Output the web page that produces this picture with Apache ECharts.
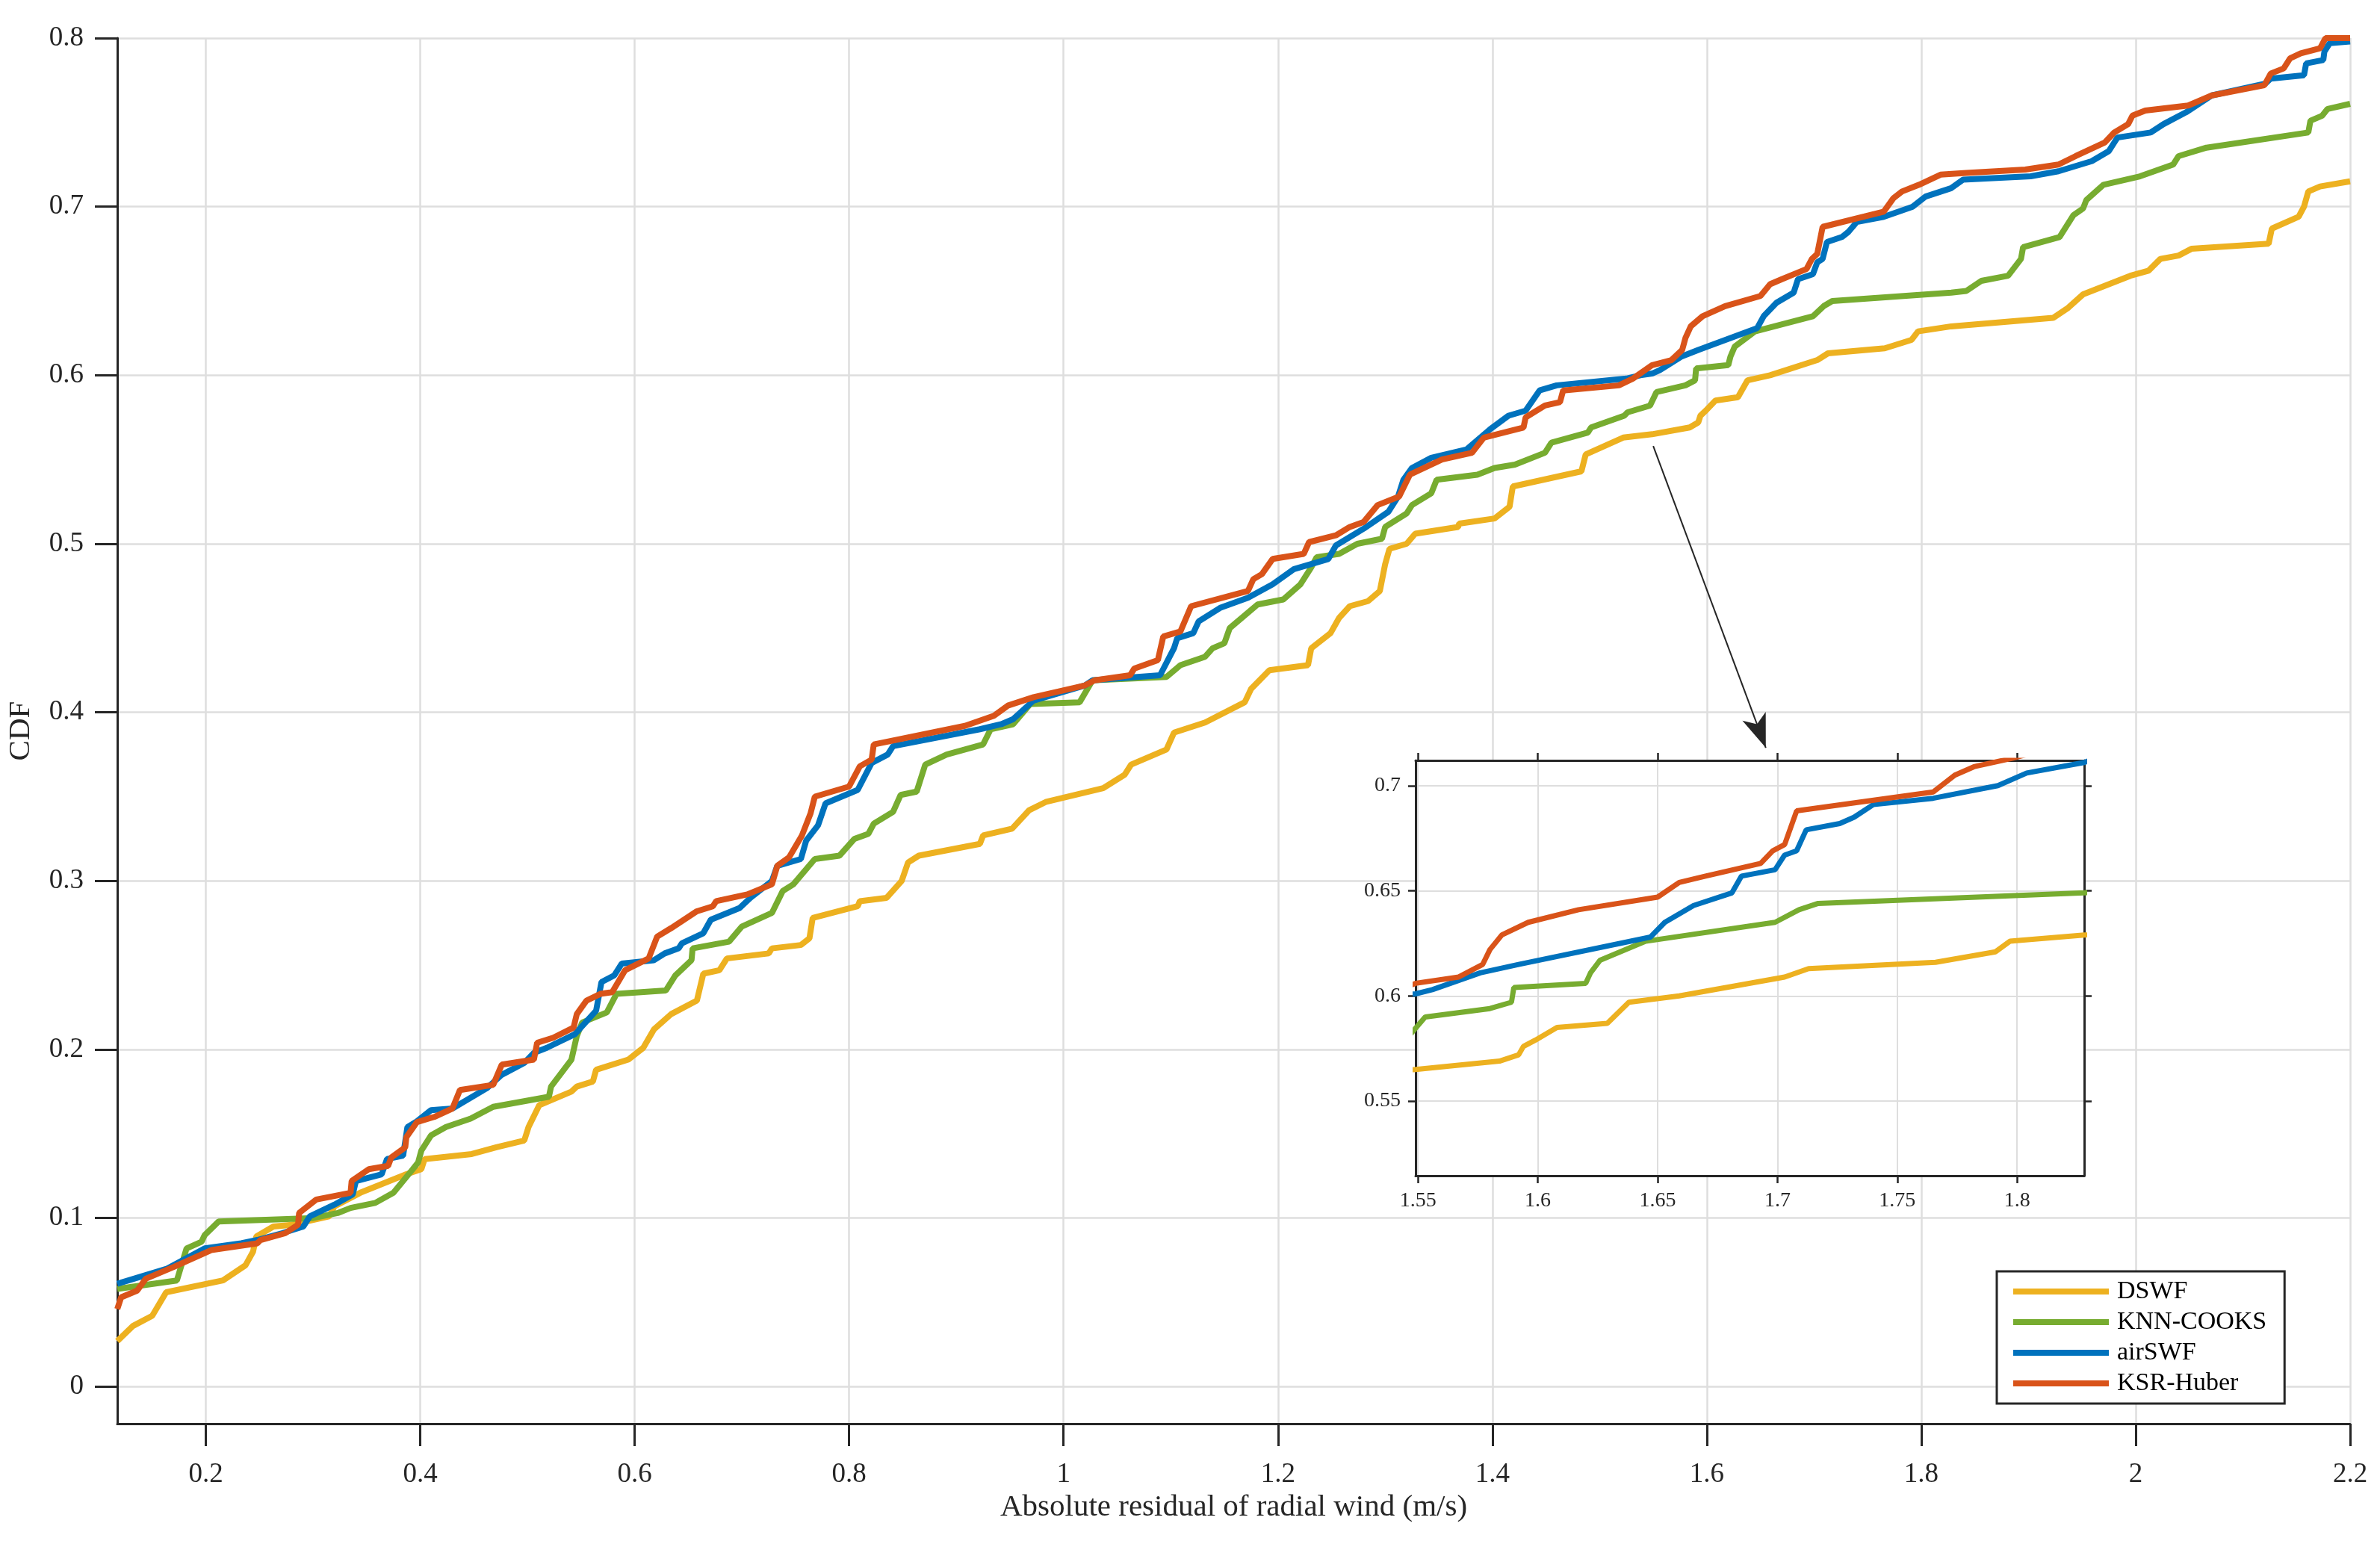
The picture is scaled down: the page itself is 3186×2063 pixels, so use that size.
<!DOCTYPE html>
<html>
<head>
<meta charset="utf-8">
<title>CDF of absolute residual</title>
<script src="https://cdn.jsdelivr.net/npm/echarts@6/dist/echarts.min.js"></script>
<style>
    html, body { margin: 0; padding: 0; background: #fff; }
    #chart { width: 3186px; height: 2063px; }
</style>
</head>
<body>
<div id="chart"></div>
<script>
const seriesNames = ['DSWF', 'KNN-COOKS', 'airSWF', 'KSR-Huber']
const seriesColors = ['#EDB120', '#77AC30', '#0072BD', '#D95319']

// [x, CDF] pairs
const dswf = [[0.1174,0.027],[0.132,0.036],[0.150,0.042],[0.163,0.056],[0.216,0.063],[0.237,0.072],[0.244,0.080],[0.247,0.089],[0.263,0.095],[0.280,0.096],[0.315,0.101],[0.320,0.107],[0.344,0.115],[0.387,0.126],[0.401,0.129],[0.404,0.135],[0.448,0.138],[0.471,0.142],[0.497,0.146],[0.501,0.154],[0.511,0.167],[0.541,0.175],[0.546,0.178],[0.561,0.181],[0.564,0.188],[0.594,0.194],[0.608,0.201],[0.618,0.212],[0.634,0.221],[0.658,0.229],[0.664,0.245],[0.679,0.247],[0.686,0.254],[0.725,0.257],[0.728,0.260],[0.755,0.262],[0.763,0.266],[0.766,0.278],[0.808,0.285],[0.810,0.288],[0.835,0.290],[0.849,0.300],[0.855,0.311],[0.865,0.315],[0.922,0.322],[0.925,0.327],[0.952,0.331],[0.968,0.342],[0.984,0.347],[1.037,0.355],[1.057,0.363],[1.063,0.369],[1.096,0.378],[1.103,0.388],[1.132,0.394],[1.169,0.406],[1.175,0.414],[1.192,0.425],[1.228,0.428],[1.231,0.438],[1.249,0.447],[1.257,0.456],[1.267,0.463],[1.284,0.466],[1.295,0.472],[1.300,0.488],[1.304,0.497],[1.320,0.500],[1.328,0.506],[1.368,0.510],[1.369,0.512],[1.402,0.515],[1.416,0.522],[1.419,0.534],[1.483,0.543],[1.487,0.553],[1.522,0.563],[1.549,0.565],[1.584,0.569],[1.592,0.572],[1.594,0.576],[1.599,0.579],[1.608,0.585],[1.629,0.587],[1.638,0.597],[1.659,0.600],[1.703,0.609],[1.713,0.613],[1.766,0.616],[1.791,0.621],[1.797,0.626],[1.828,0.629],[1.923,0.634],[1.937,0.640],[1.951,0.648],[1.995,0.659],[2.012,0.662],[2.023,0.669],[2.040,0.671],[2.052,0.675],[2.124,0.678],[2.127,0.687],[2.152,0.694],[2.157,0.700],[2.161,0.709],[2.172,0.712],[2.200,0.715]]
const knnCooks = [[0.1174,0.058],[0.173,0.063],[0.182,0.082],[0.196,0.086],[0.199,0.090],[0.212,0.098],[0.300,0.100],[0.323,0.103],[0.335,0.106],[0.358,0.109],[0.375,0.115],[0.393,0.129],[0.398,0.133],[0.401,0.140],[0.410,0.149],[0.424,0.154],[0.447,0.159],[0.468,0.166],[0.520,0.172],[0.522,0.178],[0.541,0.194],[0.546,0.208],[0.551,0.216],[0.574,0.222],[0.583,0.233],[0.629,0.235],[0.638,0.244],[0.653,0.253],[0.654,0.260],[0.688,0.264],[0.700,0.273],[0.728,0.281],[0.738,0.294],[0.748,0.298],[0.768,0.313],[0.791,0.315],[0.805,0.325],[0.818,0.328],[0.823,0.334],[0.841,0.341],[0.848,0.351],[0.863,0.353],[0.871,0.369],[0.891,0.375],[0.925,0.381],[0.932,0.390],[0.953,0.393],[0.969,0.405],[1.015,0.406],[1.027,0.419],[1.096,0.421],[1.109,0.428],[1.132,0.433],[1.139,0.438],[1.150,0.441],[1.155,0.450],[1.181,0.464],[1.205,0.467],[1.221,0.476],[1.231,0.486],[1.236,0.492],[1.257,0.494],[1.274,0.500],[1.297,0.503],[1.300,0.510],[1.320,0.518],[1.325,0.523],[1.343,0.530],[1.348,0.538],[1.386,0.541],[1.402,0.545],[1.421,0.547],[1.449,0.554],[1.455,0.560],[1.489,0.566],[1.492,0.569],[1.523,0.576],[1.526,0.578],[1.547,0.582],[1.553,0.590],[1.580,0.594],[1.589,0.597],[1.590,0.604],[1.620,0.606],[1.622,0.611],[1.626,0.617],[1.645,0.626],[1.699,0.635],[1.709,0.641],[1.717,0.644],[1.828,0.649],[1.842,0.650],[1.856,0.656],[1.881,0.659],[1.893,0.669],[1.895,0.676],[1.929,0.682],[1.942,0.695],[1.951,0.699],[1.954,0.704],[1.970,0.713],[2.004,0.718],[2.035,0.725],[2.040,0.730],[2.066,0.735],[2.161,0.744],[2.163,0.751],[2.174,0.754],[2.179,0.758],[2.200,0.761]]
const airSwf = [[0.1174,0.061],[0.164,0.070],[0.199,0.082],[0.233,0.085],[0.248,0.087],[0.271,0.091],[0.291,0.095],[0.297,0.101],[0.320,0.108],[0.337,0.114],[0.340,0.122],[0.364,0.126],[0.369,0.135],[0.384,0.137],[0.388,0.154],[0.396,0.157],[0.410,0.164],[0.430,0.165],[0.462,0.177],[0.476,0.185],[0.497,0.192],[0.506,0.198],[0.518,0.201],[0.544,0.209],[0.564,0.223],[0.569,0.240],[0.581,0.244],[0.588,0.251],[0.618,0.253],[0.628,0.257],[0.641,0.260],[0.644,0.263],[0.664,0.269],[0.671,0.277],[0.698,0.284],[0.708,0.290],[0.728,0.300],[0.733,0.309],[0.755,0.313],[0.760,0.324],[0.771,0.333],[0.778,0.346],[0.808,0.354],[0.821,0.370],[0.836,0.375],[0.841,0.380],[0.922,0.390],[0.942,0.393],[0.953,0.396],[0.972,0.407],[1.020,0.416],[1.027,0.419],[1.090,0.422],[1.103,0.438],[1.106,0.444],[1.121,0.447],[1.126,0.454],[1.146,0.462],[1.172,0.468],[1.195,0.476],[1.215,0.485],[1.247,0.491],[1.254,0.499],[1.280,0.509],[1.303,0.519],[1.312,0.528],[1.317,0.538],[1.325,0.545],[1.343,0.551],[1.376,0.556],[1.398,0.568],[1.415,0.576],[1.431,0.579],[1.444,0.591],[1.460,0.594],[1.525,0.598],[1.538,0.600],[1.549,0.601],[1.556,0.603],[1.576,0.611],[1.592,0.615],[1.647,0.628],[1.653,0.635],[1.665,0.643],[1.681,0.649],[1.685,0.657],[1.699,0.660],[1.703,0.667],[1.708,0.669],[1.712,0.679],[1.726,0.682],[1.732,0.685],[1.740,0.691],[1.765,0.694],[1.792,0.700],[1.804,0.706],[1.828,0.711],[1.839,0.716],[1.902,0.718],[1.928,0.721],[1.959,0.727],[1.975,0.733],[1.983,0.741],[2.014,0.744],[2.026,0.749],[2.047,0.756],[2.071,0.766],[2.121,0.773],[2.126,0.776],[2.157,0.778],[2.159,0.785],[2.175,0.787],[2.176,0.792],[2.181,0.797],[2.200,0.798]]
const ksrHuber = [[0.1174,0.046],[0.121,0.053],[0.136,0.057],[0.144,0.064],[0.170,0.071],[0.205,0.081],[0.248,0.085],[0.251,0.087],[0.274,0.091],[0.286,0.096],[0.287,0.103],[0.303,0.111],[0.335,0.115],[0.336,0.122],[0.352,0.129],[0.370,0.131],[0.373,0.136],[0.386,0.142],[0.387,0.148],[0.397,0.157],[0.413,0.160],[0.430,0.165],[0.437,0.176],[0.468,0.179],[0.476,0.191],[0.506,0.194],[0.509,0.204],[0.524,0.207],[0.543,0.213],[0.546,0.221],[0.555,0.229],[0.568,0.233],[0.579,0.234],[0.591,0.247],[0.613,0.254],[0.621,0.267],[0.634,0.272],[0.658,0.282],[0.673,0.285],[0.676,0.288],[0.705,0.292],[0.728,0.298],[0.733,0.309],[0.744,0.314],[0.756,0.327],[0.764,0.340],[0.768,0.350],[0.800,0.356],[0.810,0.368],[0.821,0.372],[0.823,0.381],[0.908,0.392],[0.935,0.398],[0.948,0.404],[0.972,0.409],[1.020,0.416],[1.029,0.419],[1.062,0.422],[1.066,0.426],[1.088,0.431],[1.093,0.445],[1.109,0.448],[1.119,0.463],[1.172,0.472],[1.177,0.479],[1.185,0.482],[1.195,0.491],[1.224,0.494],[1.229,0.501],[1.254,0.505],[1.267,0.510],[1.280,0.513],[1.293,0.523],[1.313,0.528],[1.323,0.541],[1.353,0.550],[1.381,0.554],[1.392,0.563],[1.429,0.569],[1.431,0.575],[1.449,0.582],[1.463,0.584],[1.466,0.591],[1.518,0.594],[1.531,0.598],[1.549,0.606],[1.567,0.609],[1.577,0.615],[1.580,0.622],[1.585,0.629],[1.596,0.635],[1.617,0.641],[1.650,0.647],[1.659,0.654],[1.670,0.657],[1.693,0.663],[1.698,0.669],[1.703,0.672],[1.708,0.688],[1.765,0.697],[1.774,0.705],[1.782,0.709],[1.798,0.713],[1.818,0.719],[1.842,0.720],[1.897,0.722],[1.928,0.725],[1.944,0.730],[1.971,0.738],[1.980,0.744],[1.993,0.749],[1.997,0.754],[2.009,0.757],[2.049,0.760],[2.071,0.766],[2.120,0.772],[2.126,0.779],[2.138,0.782],[2.144,0.788],[2.154,0.791],[2.172,0.794],[2.177,0.800],[2.200,0.800]]

const xTicks = [0.2, 0.4, 0.6, 0.8, 1, 1.2, 1.4, 1.6, 1.8, 2, 2.2]
const yTicks = [0, 0.1, 0.2, 0.3, 0.4, 0.5, 0.6, 0.7, 0.8]
const insetXTicks = [1.55, 1.6, 1.65, 1.7, 1.75, 1.8]
const insetYTicks = [0.55, 0.6, 0.65, 0.7]

// arrow from the main curves down to the zoomed box, in data units
const arrowFrom = [1.55, 0.558]
const arrowTo = [1.655, 0.379]

const seriesData = [dswf, knnCooks, airSwf, ksrHuber]

const font = '"Liberation Serif", "Times New Roman", serif'
const ink = '#262626'
const gridGray = '#dedede'

const myChart = echarts.init(document.getElementById('chart'), null, { renderer: 'canvas' })

const mainAxisCommon = {
    type: 'value',
    axisLine: { show: true, onZero: false, lineStyle: { color: ink, width: 3 } },
    axisTick: { show: true, inside: false, length: 30, lineStyle: { color: ink, width: 3 } },
    splitLine: { show: true, lineStyle: { color: gridGray, width: 2.5 } },
    axisLabel: { color: ink, fontFamily: font, fontSize: 37 },
    nameTextStyle: { color: ink, fontFamily: font, fontSize: 41 },
}

const insetAxis = (extra) => Object.assign({
    type: 'value',
    gridIndex: 1,
    z: 11,
    axisLine: { show: true, onZero: false, lineStyle: { color: ink, width: 3 } },
    axisTick: { show: true, inside: false, length: 10, lineStyle: { color: ink, width: 2.5 } },
    splitLine: { show: false },
    axisLabel: { show: false },
}, extra)

const mainSeries = seriesNames.map((name, i) => ({
    name,
    type: 'line',
    xAxisIndex: 0,
    yAxisIndex: 0,
    data: seriesData[i],
    symbol: 'none',
    showSymbol: false,
    lineStyle: { color: seriesColors[i], width: 8 },
    itemStyle: { color: seriesColors[i] },
    z: 2 + i,
}))

const insetSeries = seriesNames.map((name, i) => ({
    name,
    type: 'line',
    xAxisIndex: 1,
    yAxisIndex: 1,
    data: seriesData[i],
    symbol: 'none',
    showSymbol: false,
    clip: true,
    lineStyle: { color: seriesColors[i], width: 7 },
    itemStyle: { color: seriesColors[i] },
    z: 12 + i,
}))

mainSeries[0].markLine = {
    silent: true,
    animation: false,
    symbol: ['none', 'arrow'],
    label: { show: false },
    lineStyle: { color: ink, width: 2, type: 'solid' },
    data: [[
        { coord: arrowFrom, symbol: 'none' },
        { coord: arrowTo, symbol: 'arrow', symbolSize: [25, 45] },
    ]],
}

const option = {
    backgroundColor: '#fff',
    animation: false,
    grid: [
        { left: 156, right: 40, top: 51, bottom: 157, containLabel: false },
        {
            left: 1895, top: 1018, width: 895, height: 556,
            show: true, backgroundColor: '#fff', borderWidth: 0, z: 10,
        },
    ],
    legend: {
        data: seriesNames,
        orient: 'vertical',
        left: 2673,
        top: 1702,
        icon: 'rect',
        itemWidth: 128,
        itemHeight: 8,
        itemGap: 7,
        padding: [10, 24, 10, 22],
        backgroundColor: '#fff',
        borderColor: ink,
        borderWidth: 3,
        borderRadius: 0,
        z: 20,
        textStyle: { color: '#000', fontFamily: font, fontSize: 34, lineHeight: 34, padding: [0, 0, 0, 6] },
    },
    xAxis: [
        Object.assign({}, mainAxisCommon, {
            gridIndex: 0,
            min: 0.1174,
            max: 2.2,
            name: 'Absolute residual of radial wind (m/s)',
            nameLocation: 'middle',
            nameGap: 92,
            axisTick: Object.assign({}, mainAxisCommon.axisTick, { customValues: xTicks }),
            axisLabel: Object.assign({}, mainAxisCommon.axisLabel, { customValues: xTicks, margin: 50 }),
        }),
        insetAxis({
            position: 'bottom',
            min: 1.549,
            max: 1.828,
            axisTick: { show: true, inside: false, length: 10, customValues: insetXTicks, lineStyle: { color: ink, width: 2.5 } },
            axisLabel: { show: true, customValues: insetXTicks, color: ink, fontFamily: font, fontSize: 28, margin: 20 },
            splitLine: { show: true, lineStyle: { color: gridGray, width: 2 } },
        }),
        insetAxis({
            position: 'top',
            min: 1.549,
            max: 1.828,
            axisTick: { show: true, inside: false, length: 10, customValues: insetXTicks, lineStyle: { color: ink, width: 2.5 } },
        }),
    ],
    yAxis: [
        Object.assign({}, mainAxisCommon, {
            gridIndex: 0,
            min: -0.022,
            max: 0.8,
            name: 'CDF',
            nameLocation: 'middle',
            nameGap: 108,
            axisTick: Object.assign({}, mainAxisCommon.axisTick, { customValues: yTicks }),
            axisLabel: Object.assign({}, mainAxisCommon.axisLabel, { customValues: yTicks, margin: 45 }),
        }),
        insetAxis({
            position: 'left',
            min: 0.5145,
            max: 0.712,
            axisTick: { show: true, inside: false, length: 10, customValues: insetYTicks, lineStyle: { color: ink, width: 2.5 } },
            axisLabel: { show: true, customValues: insetYTicks, color: ink, fontFamily: font, fontSize: 28, margin: 20 },
            splitLine: { show: true, lineStyle: { color: gridGray, width: 2 } },
        }),
        insetAxis({
            position: 'right',
            min: 0.5145,
            max: 0.712,
            axisTick: { show: true, inside: false, length: 10, customValues: insetYTicks, lineStyle: { color: ink, width: 2.5 } },
        }),
    ],
    series: mainSeries.concat(insetSeries),
}

option && myChart.setOption(option)
</script>
</body>
</html>
